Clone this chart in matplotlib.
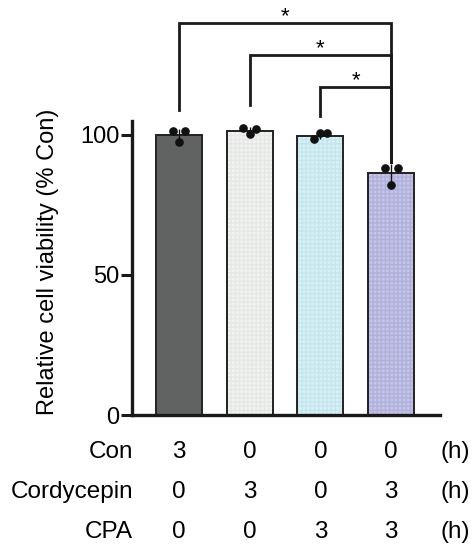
import matplotlib.pyplot as plt
import numpy as np

plt.rcParams['font.family'] = ['Liberation Sans', 'DejaVu Sans']

# bar means (% Con) and individual replicate points
groups = ['Con', 'Cordycepin', 'CPA', 'Cordycepin+CPA']
means = [99.8, 101.4, 99.6, 86.2]
points = [
    [101.2, 97.4, 101.2],
    [102.4, 100.1, 102.0],
    [98.4, 100.6, 100.4],
    [88.0, 82.0, 88.0],
]
jitter = [-0.09, 0.0, 0.09]
colors = ['#616362', '#f1f2f1', '#d8f0f5', '#c4c4e6']
hatch_colors = ['#616362', '#e6e8e6', '#c6e6ee', '#b0b0dc']

# treatment table under the axis
row_labels = ['Con', 'Cordycepin', 'CPA']
table = [
    ['3', '0', '0', '0'],
    ['0', '3', '0', '3'],
    ['0', '0', '3', '3'],
]

# significance brackets: (left bar, right bar, bracket height, left leg end, right leg end)
brackets = [
    (0, 3, 139.9, 108.7, 90.3),
    (1, 3, 128.3, 110.5, 90.3),
    (2, 3, 116.8, 106.7, 90.3),
]

fig = plt.figure(figsize=(4.74, 5.46), dpi=100)
ax = fig.add_axes([132 / 474, 1 - 415 / 546, (440 - 132) / 474, 415 / 546])

x = np.arange(len(groups))
w = 0.65
ax.bar(x, means, width=w, color=colors, edgecolor=hatch_colors, hatch='++++',
       linewidth=0, zorder=1)
ax.bar(x, means, width=w, color='none', edgecolor='#222222', linewidth=1.4, zorder=2)

sds = [np.std(p, ddof=1) for p in points]
ax.errorbar(x, means, yerr=sds, fmt='none', ecolor='#111111', elinewidth=1.0,
            capsize=0, zorder=3)
for i, p in enumerate(points):
    ax.plot(x[i] + np.array(jitter), p, 'o', color='#111111', markersize=5.2,
            zorder=4, clip_on=False)

for l, r, h, yl, yr in brackets:
    ax.plot([x[l], x[l], x[r], x[r]], [yl, h, h, yr], color='#1a1a1a', lw=2.0,
            solid_joinstyle='miter', clip_on=False, zorder=5)
    ax.text((x[l] + x[r]) / 2, h + 0.3, '*', ha='center', va='baseline',
            fontsize=16, clip_on=False)

ax.set_xlim(-0.665, 3.69)
ax.set_ylim(0, 148)
ax.set_yticks([0, 50, 100])
ax.tick_params(axis='y', labelsize=17, width=2.2, length=8, pad=1, color='#1a1a1a')
ax.set_xticks([])
for s in ['top', 'right']:
    ax.spines[s].set_visible(False)
ax.spines['left'].set_bounds(0, 105)
ax.spines['left'].set_linewidth(2.4)
ax.spines['bottom'].set_linewidth(2.4)
ax.spines['left'].set_color('#1a1a1a')
ax.spines['bottom'].set_color('#1a1a1a')
ax.text(-0.273, 0.369, 'Relative cell viability (% Con)', transform=ax.transAxes,
        rotation=90, ha='center', va='center', fontsize=17)

row_y = [94, 54, 14]
for j, lab in enumerate(row_labels):
    ax.annotate(lab, xy=(133, row_y[j]), xycoords='figure pixels', ha='right',
                va='center', fontsize=17.5)
    for i, val in enumerate(table[j]):
        ax.annotate(val, xy=(x[i], row_y[j]), xycoords=('data', 'figure pixels'),
                    ha='center', va='center', fontsize=17.5)
    ax.annotate('(h)', xy=(455, row_y[j]), xycoords='figure pixels', ha='center',
                va='center', fontsize=17.5)

fig.savefig('out.png', dpi=100)
